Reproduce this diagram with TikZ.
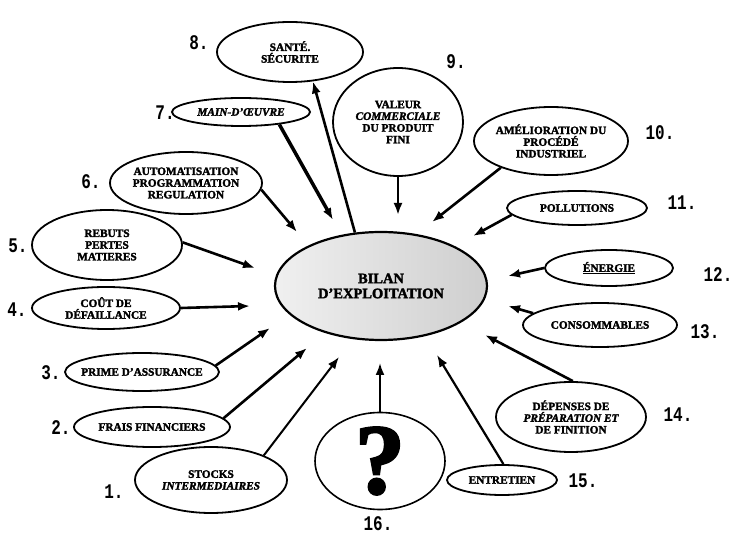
\documentclass[tikz,border=0pt]{standalone}
\usepackage{fontspec}
\usepackage{graphicx}
\setmainfont{Liberation Serif}[BoldFeatures={FakeBold=2.2},
  BoldItalicFont={Liberation Serif Bold Italic}, BoldItalicFeatures={FakeBold=2.2}]
\newfontfamily\numfont{Liberation Mono}
\usetikzlibrary{shapes.geometric,arrows.meta}
\tikzset{
  bub/.style={ellipse, draw=black, line width=1.8pt, inner xsep=-30pt, inner ysep=-15pt,
    align=center, font=\fontsize{11.3}{11.7}\selectfont\bfseries},
  num/.style={font=\numfont\bfseries\fontsize{16}{16}\selectfont, inner sep=0pt},
  arr/.style={line width=2.6pt, -{Latex[length=12pt,width=9pt]}},
}
\newcommand{\nlab}[1]{\scalebox{1}[1.3]{#1}}
\begin{document}
\begin{tikzpicture}[x=1pt,y=-1pt]
\useasboundingbox (0,0) rectangle (734,534);

% central node
\node[ellipse, draw=black, line width=2.2pt, minimum width=212pt, minimum height=108pt,
  inner xsep=-40pt, inner ysep=-20pt, left color=gray!12, right color=gray!38, align=center,
  font=\fontsize{14.5}{15}\selectfont\bfseries] (c) at (381,286) {BILAN\\D'EXPLOITATION};

% surrounding nodes
\node[bub, minimum width=146pt, minimum height=60pt] (n8) at (290,52) {SANTÉ.\\SÉCURITE};
\node[bub, minimum width=138pt, minimum height=28pt] (n7) at (241,112) {\itshape MAIN-D'ŒUVRE};
\node[bub, minimum width=152pt, minimum height=62pt] (n6) at (186,183) {AUTOMATISATION\\PROGRAMMATION\\REGULATION};
\node[bub, minimum width=150pt, minimum height=70pt] (n5) at (107,245) {REBUTS\\PERTES\\MATIERES};
\node[bub, minimum width=148pt, minimum height=42pt] (n4) at (106,308) {COÛT DE\\DÉFAILLANCE};
\node[bub, minimum width=154pt, minimum height=38pt] (n3) at (142,372) {PRIME D'ASSURANCE};
\node[bub, minimum width=156pt, minimum height=40pt] (n2) at (152,427) {FRAIS FINANCIERS};
\node[bub, minimum width=152pt, minimum height=66pt] (n1) at (211,480) {STOCKS\\\itshape INTERMEDIAIRES};
\node[bub, line width=1.6pt, minimum width=130pt, minimum height=97pt,
  font=\fontsize{100}{100}\selectfont\bfseries] (n16) at (380,461) {?};
\node[bub, minimum width=110pt, minimum height=30pt] (n15) at (502,480) {ENTRETIEN};
\node[bub, minimum width=150pt, minimum height=70pt] (n14) at (571,417) {DÉPENSES DE\\{\itshape PRÉPARATION ET}\\DE FINITION};
\node[bub, minimum width=154pt, minimum height=44pt] (n13) at (600,325) {CONSOMMABLES};
\node[bub, minimum width=128pt, minimum height=36pt] (n12) at (609,268) {\underline{ÉNERGIE}};
\node[bub, minimum width=140pt, minimum height=34pt] (n11) at (577,208) {POLLUTIONS};
\node[bub, minimum width=154pt, minimum height=68pt] (n10) at (551,141) {AMÉLIORATION DU\\PROCÉDÉ\\INDUSTRIEL};
\node[bub, minimum width=130pt, minimum height=108pt] (n9) at (398,122) {VALEUR\\{\itshape COMMERCIALE}\\DU PRODUIT\\FINI};

% number labels
\node[num] (l1) at (114,492) {\nlab{1.}};
\node[num] (l2) at (61,428) {\nlab{2.}};
\node[num] (l3) at (51,373) {\nlab{3.}};
\node[num] (l4) at (17,310) {\nlab{4.}};
\node[num] (l5) at (18,246) {\nlab{5.}};
\node[num] (l6) at (91,182) {\nlab{6.}};
\node[num] (l7) at (165,113) {\nlab{7.}};
\node[num] (l8) at (199,43) {\nlab{8.}};
\node[num] (l9) at (456,62) {\nlab{9.}};
\node[num] (l10) at (660,133) {\nlab{10.}};
\node[num] (l11) at (682,203) {\nlab{11.}};
\node[num] (l12) at (718,275) {\nlab{12.}};
\node[num] (l13) at (705,332) {\nlab{13.}};
\node[num] (l14) at (678,415) {\nlab{14.}};
\node[num] (l15) at (583,481) {\nlab{15.}};
\node[num] (l16) at (378,524) {\nlab{16.}};

% arrow tips
\coordinate (t7) at (333,220);
\coordinate (t6) at (297,232);
\coordinate (t5) at (255,268);
\coordinate (t4) at (250,306);
\coordinate (t3) at (270,328);
\coordinate (t2) at (307,348);
\coordinate (t1) at (339,357);
\coordinate (t16) at (380,363);
\coordinate (t15) at (437,355);
\coordinate (t14) at (485,335);
\coordinate (t13) at (508,306);
\coordinate (t12) at (508,276);
\coordinate (t11) at (473,236);
\coordinate (t10) at (432,222);
\coordinate (t9) at (398,215);

% connectors
\draw[arr, line width=3.5pt] (n7.-18) -- (t7);
\draw[arr] (n6.-5) -- (t6);
\draw[arr] (n5.2) -- (t5);
\draw[arr] (n4.east) -- (t4);
\draw[arr] (n3.5) -- (t3);
\draw[arr] (n2.7) -- (t2);
\draw[arr, line width=2pt] (n1.25) -- (t1);
\draw[arr, line width=2pt] (n16.north) -- (t16);
\draw[arr, line width=2.2pt] (n15.85) -- (t15);
\draw[arr] (n14.87) -- (t14);
\draw[arr] (n13.170) -- (t13);
\draw[arr] (n12.west) -- (t12);
\draw[arr] (n11.186) -- (t11);
\draw[arr] (n10.208) -- (t10);
\draw[arr] (n9.south) -- (t9);
\draw[arr] (c.116) -- (n8.-52);
\end{tikzpicture}
\end{document}
